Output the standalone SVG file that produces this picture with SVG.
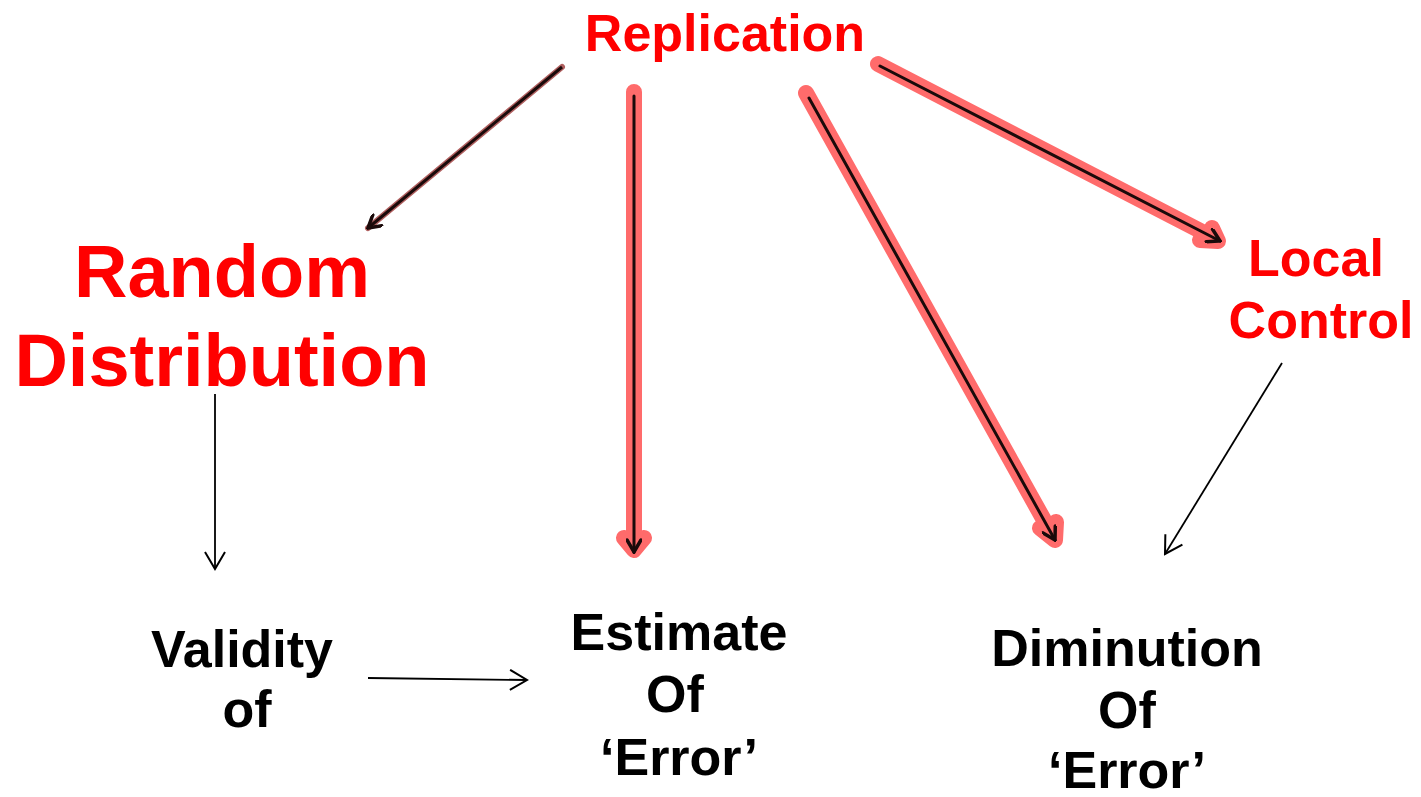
<svg xmlns="http://www.w3.org/2000/svg" width="1421" height="797" viewBox="0 0 1421 797">
<style>
.red{fill:#ff0000;font-family:"Liberation Sans",Arial,sans-serif;font-weight:bold;text-anchor:middle}
.blk{fill:#000;font-family:"Liberation Sans",Arial,sans-serif;font-weight:bold;text-anchor:middle;font-size:52px}
.glow{stroke:#ff6b6b;stroke-width:16;fill:none;stroke-linecap:round;stroke-linejoin:round}
.core{stroke:#1a0a0a;stroke-width:3;fill:none;stroke-linecap:round;stroke-linejoin:round}
.thin{stroke:#000;stroke-width:1.8;fill:none}
</style>
<defs>
<marker id="open" markerWidth="20" markerHeight="22" refX="18" refY="11" orient="auto" markerUnits="userSpaceOnUse">
<path d="M1,1 L18,11 L1,21" fill="none" stroke="#000" stroke-width="2"/>
</marker>
<marker id="openDark" markerWidth="16" markerHeight="16" refX="14" refY="8" orient="auto" markerUnits="userSpaceOnUse">
<path d="M2,1 L14,8 L2,15" fill="none" stroke="#1a0a0a" stroke-width="3.5" stroke-linecap="round"/>
</marker>
</defs>
<rect width="1421" height="797" fill="#fff"/>
<g id="connectors">
<g id="rep-random">
<line x1="562" y1="67" x2="368" y2="228" stroke="#b06060" stroke-width="6" stroke-linecap="round"/>
<line x1="562" y1="67" x2="368" y2="228" stroke="#1a0a0a" stroke-width="3" marker-end="url(#openDark)"/>
</g>
<g id="rep-estimate">
<path class="glow" d="M634,92 L634,548 M624,538 L634,550 L644,538"/>
<line class="core" x1="634" y1="96" x2="634" y2="552" marker-end="url(#openDark)"/>
</g>
<g id="rep-diminution">
<path class="glow" d="M806,93 L1054,538 M1040,528 L1055,540 L1056,522"/>
<line class="core" x1="809" y1="98" x2="1055" y2="540" marker-end="url(#openDark)"/>
</g>
<g id="rep-local">
<path class="glow" d="M878,64 L1216,239 M1200,240 L1218,241 L1212,228"/>
<line class="core" x1="880" y1="66" x2="1220" y2="241" marker-end="url(#openDark)"/>
</g>
<line id="random-validity" class="thin" x1="215" y1="394" x2="215" y2="569" marker-end="url(#open)"/>
<line id="validity-estimate" class="thin" x1="368" y1="678" x2="527" y2="680" marker-end="url(#open)"/>
<line id="local-diminution" class="thin" x1="1282" y1="363" x2="1165" y2="554" marker-end="url(#open)"/>
</g>
<g id="replication"><text class="red" x="725" y="51" font-size="52">Replication</text></g>
<g id="random-distribution">
<text class="red" x="222" y="297" font-size="74">Random</text>
<text class="red" x="222" y="386" font-size="74">Distribution</text>
</g>
<g id="local-control">
<text class="red" x="1316" y="276" font-size="52">Local</text>
<text class="red" x="1321" y="338" font-size="52">Control</text>
</g>
<g id="validity">
<text class="blk" x="242" y="667">Validity</text>
<text class="blk" x="247" y="727">of</text>
</g>
<g id="estimate">
<text class="blk" x="679" y="650">Estimate</text>
<text class="blk" x="675" y="712">Of</text>
<text class="blk" x="679" y="775">‘Error’</text>
</g>
<g id="diminution">
<text class="blk" x="1127" y="666">Diminution</text>
<text class="blk" x="1127" y="728">Of</text>
<text class="blk" x="1127" y="788">‘Error’</text>
</g>
</svg>
